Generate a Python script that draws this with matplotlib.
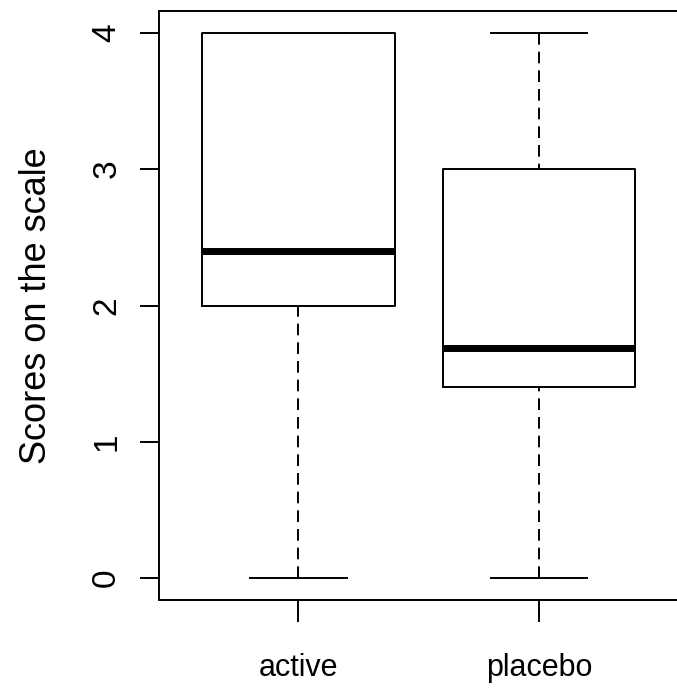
import matplotlib
matplotlib.use("Agg")
import matplotlib.pyplot as plt

plt.rcParams["font.family"] = ["Liberation Sans", "DejaVu Sans"]

# five-number summaries
groups = ["active", "placebo"]
lows = [0.0, 0.0]
q1s = [2.0, 1.4]
medians = [2.4, 1.69]
q3s = [4.0, 3.0]
highs = [4.0, 4.0]
yticks = [0, 1, 2, 3, 4]

stats = [{"label": g, "whislo": lo, "q1": a, "med": m, "q3": b, "whishi": hi}
         for g, lo, a, m, b, hi in zip(groups, lows, q1s, medians, q3s, highs)]

fig = plt.figure(figsize=(6.77, 6.89), dpi=100)
ax = fig.add_axes([159 / 677, 89 / 689, 519.5 / 677, 589 / 689])

lw = 1.4
parts = ax.bxp(stats, positions=[1, 2], widths=0.8, capwidths=0.4, showfliers=False,
               boxprops=dict(color="black", linewidth=lw),
               whiskerprops=dict(color="black", linewidth=lw, linestyle=(0, (6, 3.6))),
               capprops=dict(color="black", linewidth=lw),
               medianprops=dict(color="black", linewidth=5, solid_capstyle="butt"))
# R draws whiskers from the caps towards the box, so the dash pattern starts at the cap
for w in parts["whiskers"]:
    x, y = w.get_data()
    w.set_data(x[::-1], y[::-1])

ax.set_xlim(0.42, 2.58)
ax.set_ylim(-0.16, 4.16)
ax.set_yticks(yticks)
ax.set_yticklabels([str(t) for t in yticks], rotation=90, va="center")
ax.set_xticks([1, 2])
ax.set_xticklabels(groups)

for s in ax.spines.values():
    s.set_linewidth(lw)
ax.tick_params(axis="y", length=13.5, width=lw, pad=13, labelsize=24)
ax.tick_params(axis="x", length=16, width=lw, pad=22, labelsize=22)
ax.set_ylabel("Scores on the scale", fontsize=26, labelpad=27)

fig.savefig("out.png", dpi=100)
